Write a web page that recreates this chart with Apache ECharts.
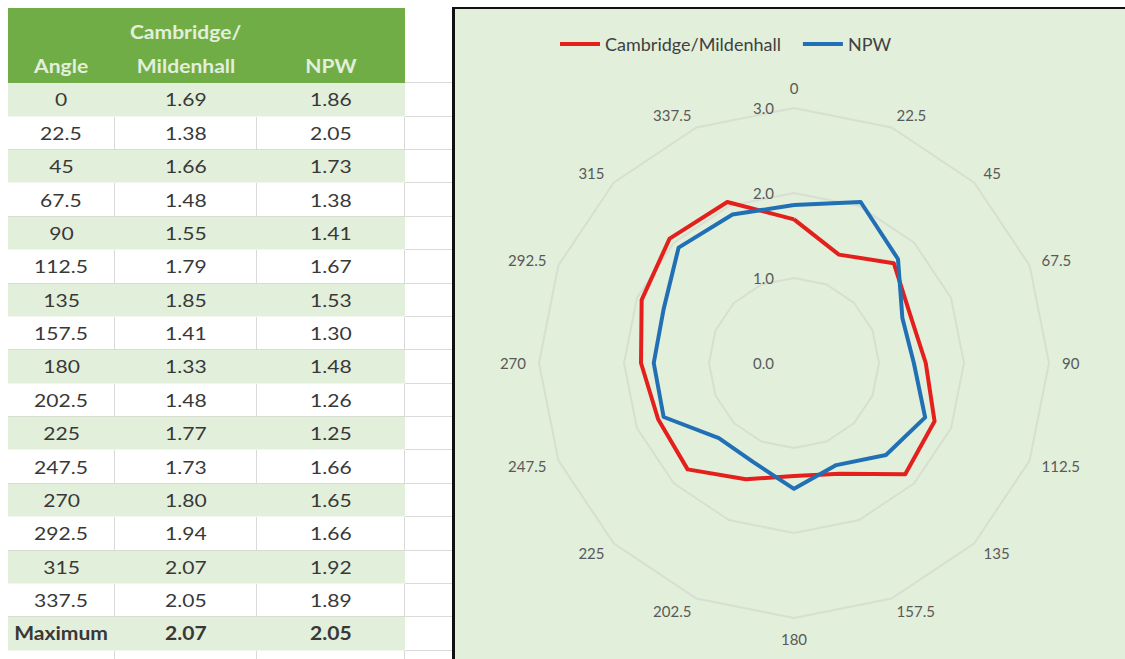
<!DOCTYPE html>
<html>
<head>
<meta charset="utf-8">
<script src="https://cdn.jsdelivr.net/npm/echarts@6/dist/echarts.min.js"></script>
<style>
  html, body { margin: 0; padding: 0; background: #fff; }
  body { width: 1125px; height: 659px; position: relative; overflow: hidden; font-family: Lato, 'Open Sans', sans-serif; }
  #sheet { position: absolute; left: 8px; top: 8px; display: grid;
           grid-template-columns: 107px 142px 148px 47px; grid-template-rows: 75.3px; grid-auto-rows: 33.375px;
           color: #383838; font-size: 18px; }
  #sheet .c { box-sizing: border-box; display: flex; align-items: center; justify-content: center;
              border-bottom: 1px solid #d6dccf; background: #fff; }
  #sheet .c span { display: inline-block; transform: scaleX(1.17); white-space: nowrap; }
  #sheet .h { background: #70ad47; color: #e2efda; font-weight: bold; flex-direction: column;
              justify-content: flex-end; line-height: 34px; border-bottom: none; text-align: center; }
  #sheet .alt { background: #e2efda; border-bottom: 1px solid #f2f7ee; }
  #sheet .plain { border-right: 1px solid #d9d9d9; }
  #sheet .blank { background: #fff; border-bottom: 1px solid #dadada; }
  #sheet .bold { font-weight: bold; }
  #chart { position: absolute; left: 452px; top: 7px; width: 673px; height: 652px; box-sizing: border-box;
           border-left: 3px solid #111; border-top: 2px solid #111; }
</style>
</head>
<body>
<div id="sheet"></div>
<div id="chart"></div>
<script>
// wind direction (deg) and the two series
var angles = ['0', '22.5', '45', '67.5', '90', '112.5', '135', '157.5', '180', '202.5', '225', '247.5', '270', '292.5', '315', '337.5'];
var cambridge = [1.69, 1.38, 1.66, 1.48, 1.55, 1.79, 1.85, 1.41, 1.33, 1.48, 1.77, 1.73, 1.80, 1.94, 2.07, 2.05];
var npw = [1.86, 2.05, 1.73, 1.38, 1.41, 1.67, 1.53, 1.30, 1.48, 1.26, 1.25, 1.66, 1.65, 1.66, 1.92, 1.89];
var seriesNames = ['Cambridge/Mildenhall', 'NPW'];
var radialMax = 3;
var radialSplits = 3;

// --- spreadsheet on the left ---
(function () {
  function cell(cls, txt) { return '<div class="c ' + cls + '"><span>' + txt + '</span></div>'; }
  var html = '<div class="c h"><span>Angle</span></div>' +
    '<div class="c h"><span>Cambridge/</span><span>Mildenhall</span></div>' +
    '<div class="c h"><span>NPW</span></div><div class="c blank"></div>';
  for (var i = 0; i < angles.length; i++) {
    var cls = i % 2 === 0 ? 'alt' : 'plain';
    html += cell(cls, angles[i]) + cell(cls, cambridge[i].toFixed(2)) + cell(cls, npw[i].toFixed(2)) + cell('blank', '');
  }
  html += cell('alt bold', 'Maximum') + cell('alt bold', Math.max.apply(null, cambridge).toFixed(2)) +
    cell('alt bold', Math.max.apply(null, npw).toFixed(2)) + cell('blank', '');
  html += cell('plain', '') + cell('plain', '') + cell('plain', '') + cell('blank', '');
  document.getElementById('sheet').innerHTML = html;
})();

// --- radar on the right (Excel goes clockwise, echarts counter-clockwise) ---
(function () {
  function cw(arr) { return [arr[0]].concat(arr.slice(1).reverse()); }
  var indicator = cw(angles).map(function (n, k) {
    var o = { name: n, min: 0, max: radialMax };
    if (k === 0) o.axisLabel = { show: true };   // value labels only along the 0 spoke
    return o;
  });

  var chart = echarts.init(document.getElementById('chart'), null, { renderer: 'svg' });
  chart.setOption({
    animation: false,
    backgroundColor: '#e2efda',
    color: ['#e3201c', '#2170b6'],
    legend: {
      left: 100,
      top: 21,
      icon: 'rect',
      itemWidth: 40,
      itemHeight: 4,
      itemGap: 22,
      textStyle: { color: '#404040', fontSize: 18, fontFamily: 'Lato' },
      data: seriesNames
    },
    radar: {
      center: [339, 354],
      radius: 255,
      startAngle: 90,
      splitNumber: radialSplits,
      shape: 'polygon',
      indicator: indicator,
      nameGap: 13,
      axisName: { color: '#595959', fontSize: 15, fontFamily: 'Lato' },
      axisLine: { show: false },
      axisTick: { show: false },
      splitLine: { lineStyle: { color: '#d7dfd1', width: 2 } },
      splitArea: { show: false },
      axisLabel: {
        show: false,
        color: '#595959',
        fontSize: 15,
        fontFamily: 'Lato',
        margin: 20,
        formatter: function (v) { return v.toFixed(1); }
      }
    },
    series: [{
      type: 'radar',
      symbol: 'none',
      lineStyle: { width: 4 },
      data: [
        { name: seriesNames[0], value: cw(cambridge) },
        { name: seriesNames[1], value: cw(npw) }
      ]
    }]
  });
})();
</script>
</body>
</html>
